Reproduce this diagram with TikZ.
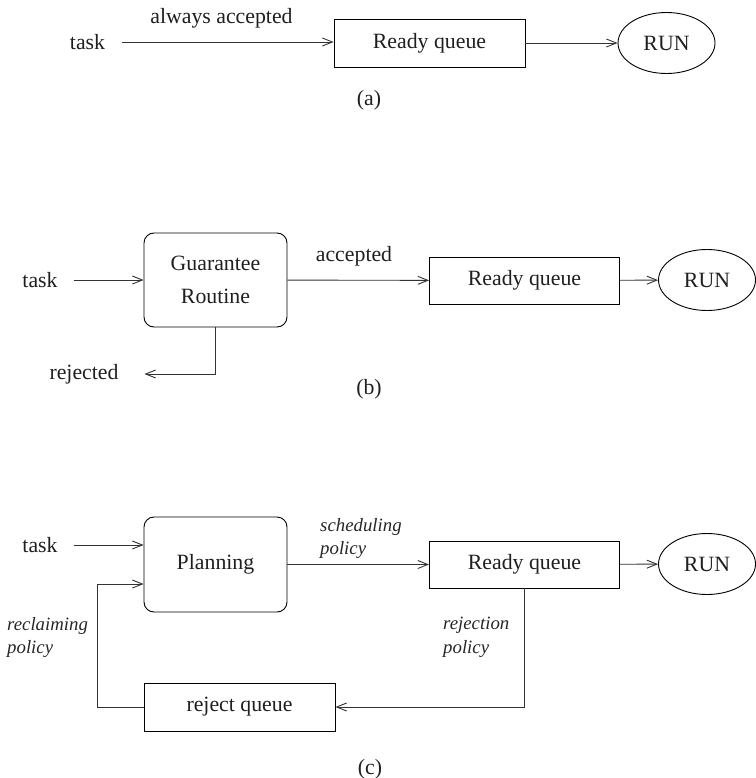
\documentclass[tikz,border=0pt]{standalone}
\usepackage{fontspec}
\setmainfont{Liberation Serif}
\usetikzlibrary{arrows.meta,shapes.geometric}
\newcommand\bigf{\fontsize{21.8}{26}\selectfont}
\newcommand\itf{\fontsize{18.8}{23.5}\selectfont\itshape}
\tikzset{
  lbl/.style={inner sep=0pt, font=\bigf, text=black!88},
  itlbl/.style={inner sep=0pt, font=\itf, text=black!85, align=left, anchor=north west},
  qbox/.style={draw=black, line width=0.9pt, minimum width=190pt, minimum height=47pt, inner sep=0pt, font=\bigf, text=black!88},
  rbox/.style={draw=black, line width=0.9pt, rounded corners=10pt, minimum width=143pt, minimum height=95pt, inner sep=0pt, font=\bigf, text=black!88, align=center},
  runel/.style={draw=black, line width=0.9pt, ellipse, minimum width=97pt, minimum height=61pt, inner sep=0pt, font=\bigf, text=black!88},
  conn/.style={draw=black!80, line width=0.9pt, -{Straight Barb[length=10pt,width=8pt,line width=0.9pt]}},
  plain/.style={draw=black!80, line width=0.9pt},
}
\begin{document}
\begin{tikzpicture}[x=1pt,y=-1pt]
\useasboundingbox (0,0) rectangle (755,778);
% ---------- (a)
\node[lbl, outer xsep=17pt] (taskA) at (87.5,42) {task};
\node[lbl, anchor=base] (accA) at (221.5,24) {always accepted};
\node[qbox, minimum width=191pt, minimum height=48pt] (readyA) at (429.5,43) {Ready queue};
\node[runel] (runA) at (666.5,43) {RUN};
\node[lbl] (capA) at (369,100) {(a)};
\draw[conn] (taskA.east) -- (taskA.east -| readyA.west);
\draw[conn] (readyA) -- (runA);
% ---------- (b)
\node[rbox, minimum height=94pt, font=\fontsize{21.8}{33}\selectfont] (guar) at (215.5,280) {Guarantee\\Routine};
\node[lbl, outer xsep=16pt] (taskB) at (40,280) {task};
\node[lbl, anchor=base] (accB) at (354,261) {accepted};
\node[qbox] (readyB) at (524.5,280.5) {Ready queue};
\node[runel] (runB) at (707,280) {RUN};
\node[lbl, outer xsep=26pt] (rej) at (84,374) {rejected};
\node[lbl] (capB) at (369,389) {(b)};
\draw[conn] (taskB.east) -- (taskB.east -| guar.west);
\draw[conn] (guar) -- (readyB);
\draw[conn] (readyB) -- (runB);
\draw[conn] (guar.south) |- (rej.east);
% ---------- (c)
\node[rbox] (plan) at (215.5,564.5) {Planning};
\node[lbl, outer xsep=16pt] (taskC) at (40,545) {task};
\node[itlbl] (sched) at (320,518) {scheduling\\policy};
\node[qbox] (readyC) at (524.5,564.5) {Ready queue};
\node[runel] (runC) at (707,564) {RUN};
\node[qbox, minimum width=191pt, minimum height=48pt] (rejq) at (239.5,707) {reject queue};
\node[itlbl] (rejpol) at (443,617) {rejection\\policy};
\node[itlbl] (reclpol) at (7,617) {reclaiming\\policy};
\node[lbl] (capC) at (370,769) {(c)};
\coordinate (recl) at (97,584);
\draw[conn] (taskC.east) -- (taskC.east -| plan.west);
\draw[conn] (plan) -- (readyC);
\draw[conn] (readyC) -- (runC);
\draw[conn] (readyC.south) |- (rejq.east);
\draw[conn] (rejq.west) -| (recl) -- (recl -| plan.west);
\end{tikzpicture}
\end{document}
